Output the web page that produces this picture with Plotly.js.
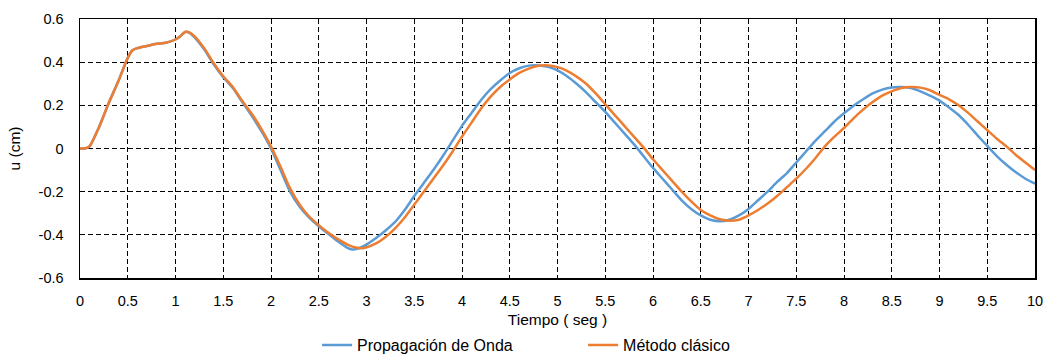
<!DOCTYPE html>
<html>
<head>
<meta charset="utf-8">
<script src="https://cdn.plot.ly/plotly-3.0.1.min.js"></script>
<style>html,body{margin:0;padding:0;background:#fff;}#chart{width:1043px;height:354px;}</style>
</head>
<body>
<div id="chart"></div>
<script>
const seriesNames = ["Propagación de Onda", "Método clásico"];

const tOnda = [0,0.05,0.1,0.2,0.3,0.4,0.5,0.55,0.6,0.7,0.8,0.9,1.0,1.05,1.1,1.15,1.2,1.3,1.4,1.5,1.6,1.7,1.8,1.9,2.0,2.1,2.2,2.3,2.4,2.5,2.6,2.7,2.8,2.85,2.9,3.0,3.1,3.2,3.3,3.4,3.5,3.6,3.7,3.8,3.9,4.0,4.1,4.2,4.3,4.4,4.5,4.6,4.7,4.8,4.9,5.0,5.1,5.2,5.3,5.4,5.5,5.6,5.7,5.8,5.9,6.0,6.1,6.2,6.3,6.4,6.5,6.6,6.7,6.8,6.9,7.0,7.1,7.2,7.3,7.4,7.5,7.6,7.7,7.8,7.9,8.0,8.1,8.2,8.3,8.4,8.5,8.6,8.7,8.8,8.9,9.0,9.1,9.2,9.3,9.4,9.5,9.6,9.7,9.8,9.9,10];
const uOnda = [0,0,0.01,0.1,0.21,0.31,0.42,0.455,0.465,0.475,0.485,0.49,0.505,0.52,0.54,0.535,0.515,0.46,0.39,0.33,0.28,0.215,0.15,0.08,0.0,-0.1,-0.2,-0.27,-0.32,-0.36,-0.395,-0.43,-0.46,-0.468,-0.465,-0.445,-0.415,-0.38,-0.34,-0.285,-0.22,-0.16,-0.1,-0.035,0.035,0.105,0.165,0.225,0.275,0.315,0.35,0.372,0.384,0.385,0.378,0.362,0.335,0.3,0.26,0.215,0.17,0.12,0.07,0.02,-0.035,-0.09,-0.14,-0.19,-0.24,-0.28,-0.31,-0.33,-0.337,-0.33,-0.31,-0.28,-0.24,-0.2,-0.155,-0.115,-0.065,-0.015,0.035,0.08,0.125,0.163,0.198,0.228,0.255,0.273,0.283,0.285,0.28,0.265,0.245,0.222,0.19,0.155,0.11,0.06,0.012,-0.035,-0.075,-0.11,-0.14,-0.163];

const tClasico = [0,0.05,0.1,0.2,0.3,0.4,0.5,0.55,0.6,0.7,0.8,0.9,1.0,1.05,1.1,1.15,1.2,1.3,1.4,1.5,1.6,1.7,1.8,1.9,2.0,2.1,2.2,2.3,2.4,2.5,2.6,2.7,2.8,2.9,2.95,3.0,3.1,3.2,3.3,3.4,3.5,3.6,3.7,3.8,3.9,4.0,4.1,4.2,4.3,4.4,4.5,4.6,4.7,4.8,4.9,5.0,5.1,5.2,5.3,5.4,5.5,5.6,5.7,5.8,5.9,6.0,6.1,6.2,6.3,6.4,6.5,6.6,6.7,6.8,6.9,7.0,7.1,7.2,7.3,7.4,7.5,7.6,7.7,7.8,7.9,8.0,8.1,8.2,8.3,8.4,8.5,8.6,8.7,8.8,8.9,9.0,9.1,9.2,9.3,9.4,9.5,9.6,9.7,9.8,9.9,10];
const uClasico = [0,0,0.01,0.1,0.21,0.31,0.42,0.455,0.465,0.475,0.485,0.49,0.505,0.52,0.54,0.537,0.52,0.465,0.395,0.335,0.285,0.22,0.16,0.09,0.01,-0.085,-0.185,-0.26,-0.315,-0.355,-0.39,-0.42,-0.445,-0.46,-0.462,-0.458,-0.44,-0.41,-0.37,-0.32,-0.26,-0.2,-0.14,-0.08,-0.015,0.055,0.12,0.185,0.24,0.285,0.32,0.35,0.37,0.383,0.385,0.377,0.36,0.333,0.3,0.255,0.205,0.155,0.105,0.055,0.005,-0.05,-0.1,-0.15,-0.2,-0.245,-0.285,-0.31,-0.328,-0.335,-0.33,-0.31,-0.285,-0.255,-0.22,-0.18,-0.14,-0.095,-0.045,0.01,0.055,0.095,0.14,0.18,0.215,0.245,0.265,0.28,0.285,0.282,0.27,0.248,0.228,0.2,0.165,0.125,0.085,0.045,0.01,-0.03,-0.065,-0.1];

const xTickVals = [0,0.5,1,1.5,2,2.5,3,3.5,4,4.5,5,5.5,6,6.5,7,7.5,8,8.5,9,9.5,10];
const xTickText = ["0","0.5","1","1.5","2","2.5","3","3.5","4","4.5","5","5.5","6","6.5","7","7.5","8","8.5","9","9.5","10"];
const yTickVals = [-0.6,-0.4,-0.2,0,0.2,0.4,0.6];
const yTickText = ["-0.6","-0.4","-0.2","0","0.2","0.4","0.6"];

const traces = [
  {x: tOnda, y: uOnda, name: seriesNames[0], type: 'scatter', mode: 'lines',
   line: {color: '#5B9BD5', width: 2.5, shape: 'spline', smoothing: 0.6}},
  {x: tClasico, y: uClasico, name: seriesNames[1], type: 'scatter', mode: 'lines',
   line: {color: '#ED7D31', width: 2.5, shape: 'spline', smoothing: 0.6}}
];

const fam = 'Liberation Sans, Arial, sans-serif';
const tickFont = {family: fam, size: 14.5, color: '#000'};
const textFont = {family: fam, size: 15.5, color: '#000'};
const legendFont = {family: fam, size: 16, color: '#000'};

const layout = {
  width: 1043, height: 354,
  margin: {l: 80, r: 8, t: 19, b: 76, autoexpand: false},
  paper_bgcolor: '#fff', plot_bgcolor: '#fff',
  font: textFont,
  showlegend: true,
  legend: {orientation: 'h', xref: 'container', yref: 'container',
           x: 0.304, xanchor: 'left', y: 0.025, yanchor: 'middle',
           font: legendFont, entrywidth: 221, entrywidthmode: 'pixels', tracegroupgap: 0},
  xaxis: {
    range: [0, 10], tickvals: xTickVals, ticktext: xTickText, automargin: false,
    showgrid: true, gridcolor: '#000', griddash: '5px,3px', gridwidth: 1,
    zeroline: false, showline: true, linecolor: '#000', linewidth: 1.5, mirror: true,
    ticks: '', tickfont: tickFont, ticklabelstandoff: 9, ticklabeloverflow: 'allow',
    title: {text: 'Tiempo ( seg )', font: textFont, standoff: 10}
  },
  yaxis: {
    range: [-0.6, 0.6], tickvals: yTickVals, ticktext: yTickText, automargin: false,
    showgrid: true, gridcolor: '#000', griddash: '5px,3px', gridwidth: 1,
    zeroline: false, showline: true, linecolor: '#000', linewidth: 1.5, mirror: true,
    ticks: '', tickfont: tickFont, ticklabelstandoff: 12, ticklabeloverflow: 'allow',
    title: {text: 'u (cm)', font: textFont, standoff: 14}
  }
};

Plotly.newPlot('chart', traces, layout, {staticPlot: true, displayModeBar: false});
</script>
</body>
</html>
